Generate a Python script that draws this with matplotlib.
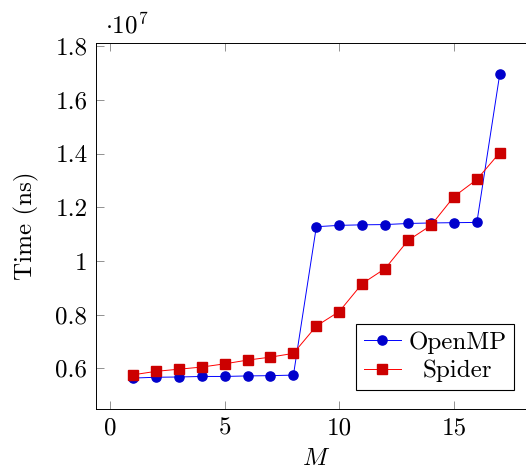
import matplotlib
matplotlib.use("Agg")
import matplotlib.pyplot as plt
from matplotlib.ticker import FixedLocator, FuncFormatter

plt.rcParams["font.family"] = "cmr10"
plt.rcParams["mathtext.fontset"] = "cm"
plt.rcParams["axes.unicode_minus"] = False

# Runtime (ns) as a function of M
m_values = list(range(1, 18))
openmp_ns = [5.64e6, 5.67e6, 5.68e6, 5.70e6, 5.70e6, 5.72e6, 5.73e6, 5.75e6,
             11.28e6, 11.33e6, 11.35e6, 11.36e6, 11.40e6, 11.42e6, 11.43e6, 11.44e6,
             16.98e6]
spider_ns = [5.76e6, 5.89e6, 5.97e6, 6.05e6, 6.17e6, 6.31e6, 6.42e6, 6.56e6,
             7.58e6, 8.12e6, 9.16e6, 9.72e6, 10.77e6, 11.33e6, 12.40e6, 13.04e6,
             14.04e6]
series_names = ["OpenMP", "Spider"]
x_ticks = [0, 5, 10, 15]
y_ticks = [0.6e7, 0.8e7, 1.0e7, 1.2e7, 1.4e7, 1.6e7, 1.8e7]

FS = 18
W, H = 526, 469
fig = plt.figure(figsize=(W / 100, H / 100), dpi=100)
ax = fig.add_axes([96.2 / W, 1 - 408.5 / H, 440.3 / W, 365.2 / H])

ax.plot(m_values, openmp_ns, color="blue", lw=0.7, marker="o", ms=6.6,
        mfc="#0000cc", mec="#0000cc", label=series_names[0], zorder=3)
ax.plot(m_values, spider_ns, color="red", lw=0.7, marker="s", ms=6.8,
        mfc="#cc0000", mec="#cc0000", label=series_names[1], zorder=3)

# 10% enlargement of the data range on each side
xmin, xmax = min(m_values), max(m_values)
xr = xmax - xmin
ax.set_xlim(xmin - 0.1 * xr, xmax + 0.1 * xr)
allv = openmp_ns + spider_ns
ymin, ymax = min(allv), max(allv)
yr = ymax - ymin
ax.set_ylim(ymin - 0.1 * yr, ymax + 0.1 * yr)

ax.xaxis.set_major_locator(FixedLocator(x_ticks))
ax.yaxis.set_major_locator(FixedLocator(y_ticks))
ax.yaxis.set_major_formatter(FuncFormatter(lambda v, p: f"{v / 1e7:g}"))
ax.xaxis.set_major_formatter(FuncFormatter(lambda v, p: f"{v:g}"))

ax.tick_params(direction="in", length=5.7, width=0.6, color="0.5",
               top=True, right=True, labelsize=FS)
ax.tick_params(axis="y", pad=6.3)
ax.tick_params(axis="x", pad=6.3)
for s in ax.spines.values():
    s.set_linewidth(0.7)
    s.set_color("black")

ax.set_ylabel("Time (ns)", fontsize=FS, labelpad=12)
ax.set_xlabel("$M$", fontsize=FS, labelpad=6)
ax.text(0.02, 1.027, r"$\cdot 10^{7}$", transform=ax.transAxes,
        fontsize=FS, ha="left", va="baseline")

leg = ax.legend(loc="lower right", bbox_to_anchor=(0.9496, 0.0507),
                fontsize=FS, frameon=True, fancybox=False, framealpha=1,
                edgecolor="black", handlelength=1.5, handletextpad=0.3,
                borderpad=0.3, labelspacing=0.25, borderaxespad=0)
leg.get_frame().set_linewidth(0.8)

# center the legend labels within their column
fig.canvas.draw()
renderer = fig.canvas.get_renderer()
texts = leg.get_texts()
widths = [t.get_window_extent(renderer).width for t in texts]
wmax = max(widths)
for t, w in zip(texts, widths):
    t.set_x((wmax - w) / 2)

fig.savefig("out.png", dpi=100)
